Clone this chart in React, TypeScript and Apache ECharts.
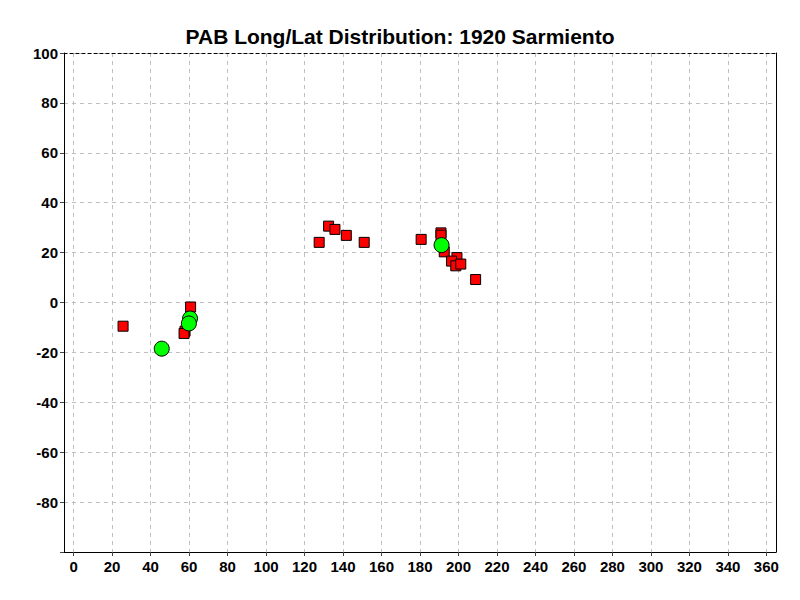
import React, { useEffect, useRef } from "react";
import * as echarts from "echarts";

const titleText = "PAB Long/Lat Distribution: 1920 Sarmiento";

const xTicks = [0, 20, 40, 60, 80, 100, 120, 140, 160, 180, 200, 220, 240, 260, 280, 300, 320, 340, 360];

const redLong = [25.7, 60.8, 57.9, 57.4, 132.5, 135.8, 141.7, 127.6, 151.0, 180.6, 190.9, 190.9, 192.6, 199.2, 196.4, 198.6, 201.2, 208.9];
const redLat = [-9.5, -1.8, -11.5, -12.4, 30.6, 29.3, 26.9, 24.1, 24.1, 25.3, 27.9, 27.0, 20.3, 18.0, 16.6, 14.7, 15.4, 9.2];

const greenLong = [45.8, 60.5, 59.9, 191.2];
const greenLat = [-18.5, -6.4, -8.4, 23.0];

const fontFamily = "'Liberation Sans', Arial, sans-serif";

export default function App() {
  const ref = useRef<HTMLDivElement>(null);
  useEffect(() => {
    if (!ref.current) return;
    const chart = echarts.init(ref.current, null, { renderer: "svg" });
    const labelStyle = {
      color: "#000",
      fontWeight: "bold" as const,
      fontSize: 15,
      fontFamily,
    };
    const splitLine = {
      show: true,
      lineStyle: { color: "#c0c0c0", type: [4, 4] as any, width: 1 },
    };
    chart.setOption({
      animation: false,
      backgroundColor: "#fff",
      title: {
        text: titleText,
        left: "center",
        top: 21,
        textStyle: { color: "#000", fontWeight: "bold", fontSize: 21, fontFamily },
      },
      grid: { left: 64, right: 24, top: 53, bottom: 48, containLabel: false },
      xAxis: [
        {
          type: "value",
          min: -5,
          max: 365,
          axisLine: { show: true, onZero: false, lineStyle: { color: "#000", width: 1 } },
          axisTick: { show: true, length: 4, lineStyle: { color: "#444" }, customValues: xTicks },
          axisLabel: { ...labelStyle, margin: 7, customValues: xTicks },
          splitLine: splitLine,
        },
        {
          type: "value",
          position: "top",
          min: -5,
          max: 365,
          axisLine: { show: true, onZero: false, lineStyle: { color: "#000", width: 1, type: [3, 3] } },
          axisTick: { show: false },
          axisLabel: { show: false },
          splitLine: { show: false },
        },
      ],
      yAxis: [
        {
          type: "value",
          min: -100,
          max: 100,
          interval: 20,
          axisLine: { show: true, onZero: false, lineStyle: { color: "#000", width: 1 } },
          axisTick: { show: true, length: 4, lineStyle: { color: "#444" } },
          axisLabel: {
            ...labelStyle,
            margin: 6,
            formatter: (v: number) => (v === -100 ? "" : String(v)),
          },
          splitLine: splitLine,
        },
        {
          type: "value",
          position: "right",
          min: -100,
          max: 100,
          axisLine: { show: true, onZero: false, lineStyle: { color: "#000", width: 1 } },
          axisTick: { show: false },
          axisLabel: { show: false },
          splitLine: { show: false },
        },
      ],
      series: [
        {
          type: "scatter",
          name: "red",
          symbol: "rect",
          symbolSize: 10,
          itemStyle: { color: "#ff0000", borderColor: "#000", borderWidth: 1, opacity: 1 },
          data: redLong.map((x, i) => [x, redLat[i]]),
          z: 3,
        },
        {
          type: "scatter",
          name: "green",
          symbol: "circle",
          symbolSize: 15,
          itemStyle: { color: "#00ff00", borderColor: "#000", borderWidth: 1, opacity: 1 },
          data: greenLong.map((x, i) => [x, greenLat[i]]),
          z: 4,
        },
      ],
    });
    return () => chart.dispose();
  }, []);
  return <div ref={ref} style={{ width: 800, height: 600, position: "absolute", left: 0, top: 0 }} />;
}
